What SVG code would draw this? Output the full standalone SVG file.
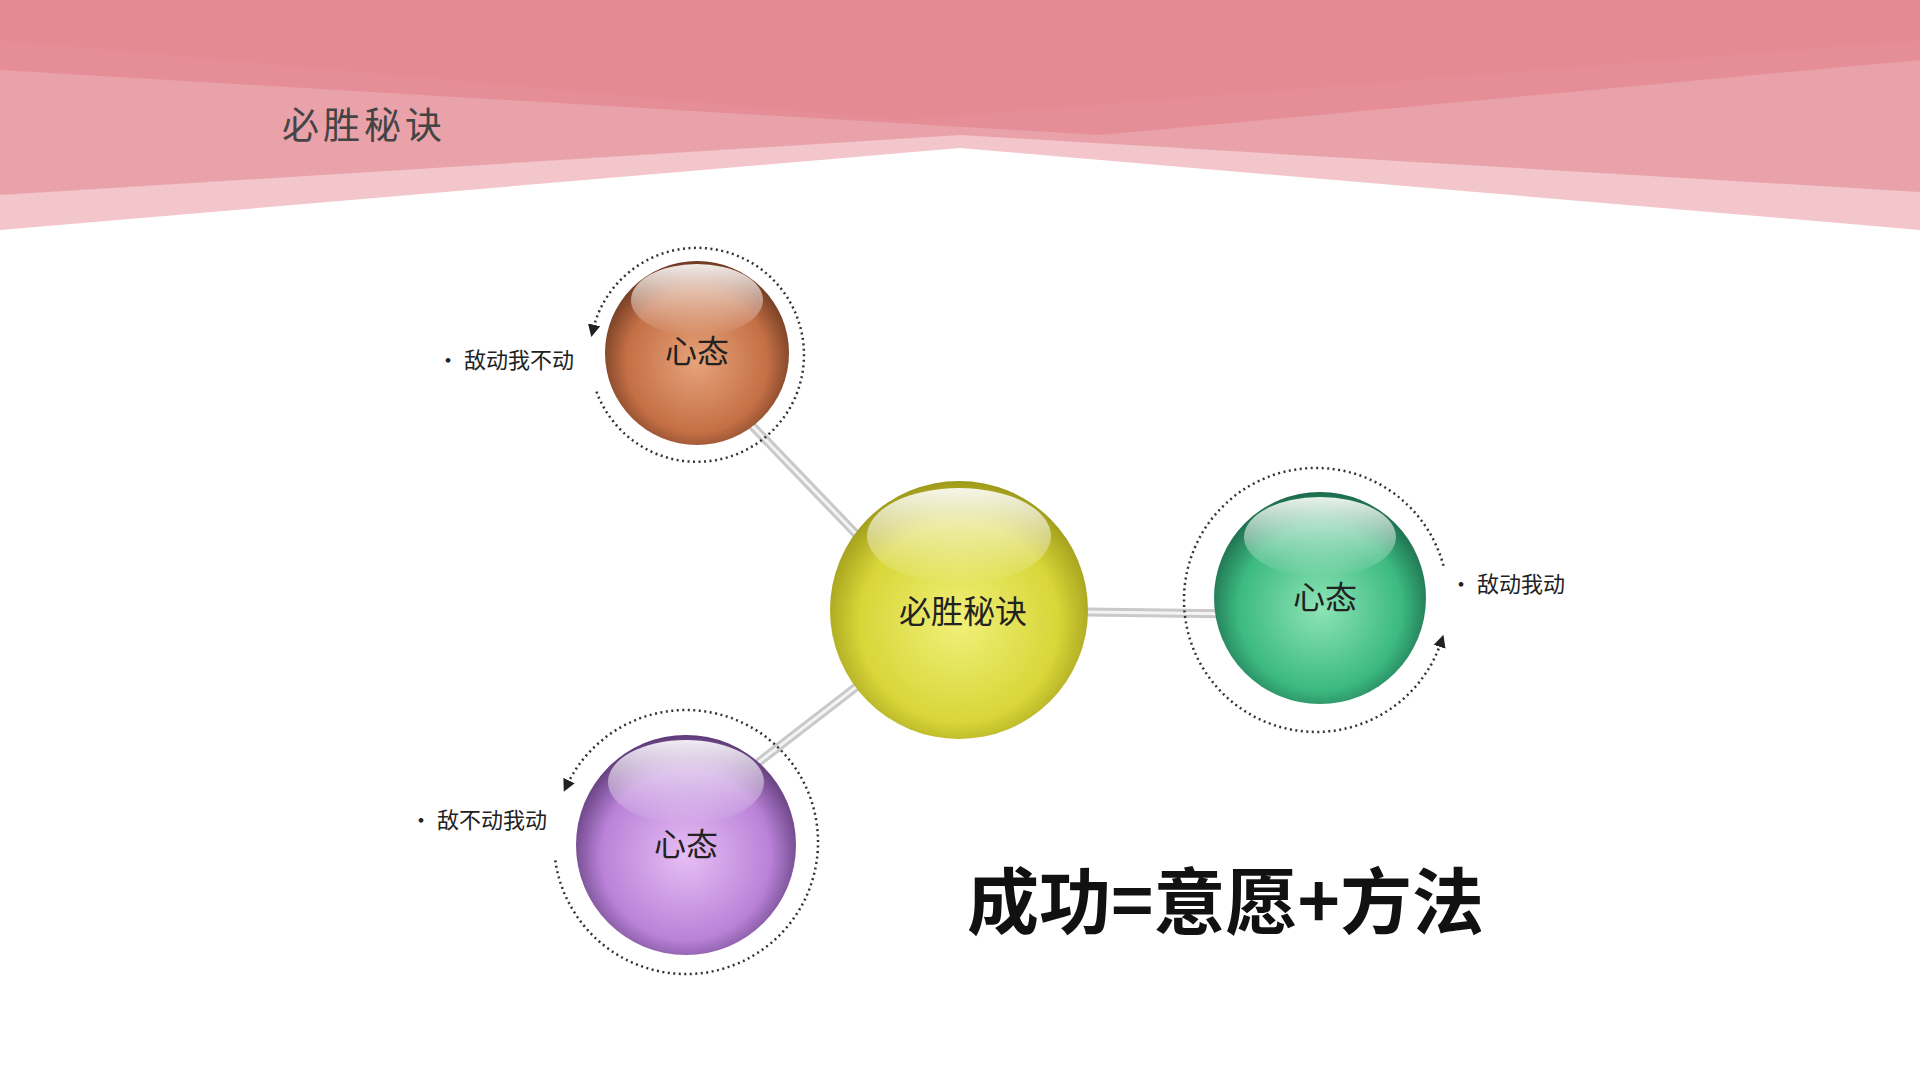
<svg xmlns="http://www.w3.org/2000/svg" width="1920" height="1080" viewBox="0 0 1920 1080">
<style>
.cjk{font-family:"Noto Sans CJK SC","Liberation Serif",serif;}
.lbl{font-size:22px;fill:#222;}
.ring{fill:none;stroke:#333;stroke-width:2.5;stroke-dasharray:2 3.5;}
.bar{stroke:#c9c9c9;stroke-width:9;stroke-linecap:round;}
.bar2{stroke:#f4f4f4;stroke-width:3;stroke-linecap:round;}
.stxt{font-size:32px;fill:#222;text-anchor:middle;}
</style>
<defs>
<radialGradient id="gO" cx="50%" cy="55%" r="55%"><stop offset="0" stop-color="#e7a37a"/><stop offset="0.7" stop-color="#c46f45"/><stop offset="1" stop-color="#6e3a22"/></radialGradient>
<radialGradient id="gY" cx="50%" cy="55%" r="55%"><stop offset="0" stop-color="#f1f07a"/><stop offset="0.7" stop-color="#d8d638"/><stop offset="1" stop-color="#9e9a1a"/></radialGradient>
<radialGradient id="gG" cx="50%" cy="55%" r="55%"><stop offset="0" stop-color="#8ee4b6"/><stop offset="0.7" stop-color="#3cba80"/><stop offset="1" stop-color="#1c6a4c"/></radialGradient>
<radialGradient id="gP" cx="50%" cy="55%" r="55%"><stop offset="0" stop-color="#e7bef4"/><stop offset="0.7" stop-color="#b982d8"/><stop offset="1" stop-color="#5e3a78"/></radialGradient>
<linearGradient id="hl" x1="0" y1="0" x2="0" y2="1"><stop offset="0" stop-color="#fff" stop-opacity="0.9"/><stop offset="1" stop-color="#fff" stop-opacity="0"/></linearGradient>
<marker id="ar" viewBox="0 0 10 10" refX="5" refY="5" markerWidth="5" markerHeight="5" orient="auto"><path d="M0,0L10,5L0,10z" fill="#222"/></marker>
</defs>
<rect width="1920" height="1080" fill="#fff"/>
<g id="header">
<polygon points="0,0 1920,0 1920,230 960,148 0,230" fill="#f2c6cb"/>
<polygon points="0,0 1920,0 1920,192 960,135 0,195" fill="#eaa2aa"/>
<polygon points="0,0 1920,0 1920,60 1100,135 0,70" fill="#e58e97"/>
<polygon points="0,40 900,120 1920,40 1920,0 0,0" fill="#e3878f" opacity="0.6"/>
<text x="282" y="139" class="cjk" font-size="37" fill="#444" letter-spacing="4">必胜秘诀</text>
</g>
<g id="connectors">
<line x1="735" y1="408" x2="857" y2="535" class="bar"/><line x1="735" y1="408" x2="857" y2="535" class="bar2"/>
<line x1="1087" y1="612" x2="1240" y2="614" class="bar"/><line x1="1087" y1="612" x2="1240" y2="614" class="bar2"/>
<line x1="882" y1="667" x2="759" y2="762" class="bar"/><line x1="882" y1="667" x2="759" y2="762" class="bar2"/>
<path d="M596.5,391.6 A107,107 0 1 0 592.7,330.9" class="ring" marker-end="url(#ar)"/>
<path d="M1443.5,565.8 A132,132 0 1 0 1441.5,640.8" class="ring" marker-end="url(#ar)"/>
<path d="M555.3,860.4 A132,132 0 1 0 566.4,786.2" class="ring" marker-end="url(#ar)"/>
</g>
<g id="node-orange">
<circle cx="697" cy="353" r="92" fill="url(#gO)"/>
<ellipse cx="697" cy="300" rx="66" ry="36" fill="url(#hl)"/>
<text x="697" y="363" class="cjk stxt">心态</text>
<text x="437" y="368" class="cjk lbl">• 敌动我不动</text>
</g>
<g id="node-center">
<circle cx="959" cy="610" r="129" fill="url(#gY)"/>
<ellipse cx="959" cy="536" rx="92" ry="48" fill="url(#hl)"/>
<text x="963" y="623" class="cjk stxt" font-size="39">必胜秘诀</text>
</g>
<g id="node-green">
<circle cx="1320" cy="598" r="106" fill="url(#gG)"/>
<ellipse cx="1320" cy="537" rx="76" ry="40" fill="url(#hl)"/>
<text x="1325" y="609" class="cjk stxt">心态</text>
<text x="1450" y="592" class="cjk lbl">• 敌动我动</text>
</g>
<g id="node-purple">
<circle cx="686" cy="845" r="110" fill="url(#gP)"/>
<ellipse cx="686" cy="782" rx="78" ry="42" fill="url(#hl)"/>
<text x="686" y="856" class="cjk stxt">心态</text>
<text x="410" y="828" class="cjk lbl">• 敌不动我动</text>
</g>
<text x="967" y="928" class="cjk" font-size="72" font-weight="bold" fill="#111">成功=意愿+方法</text>
</svg>
